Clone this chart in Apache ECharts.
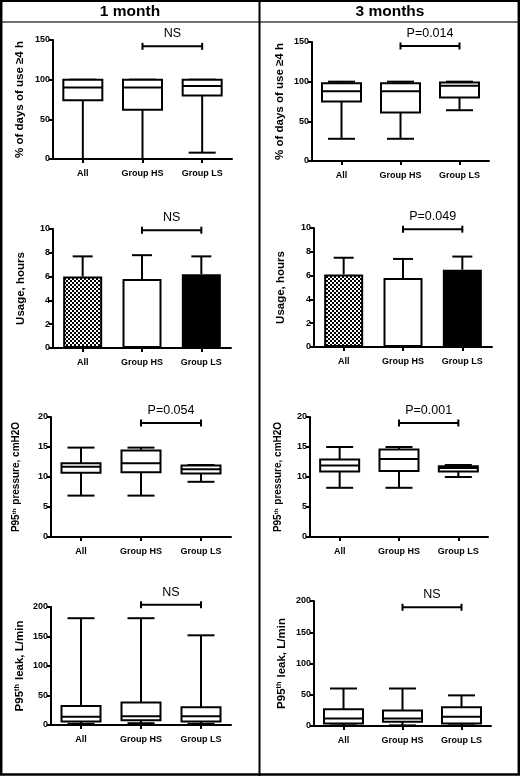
<!DOCTYPE html>
<html>
<head>
<meta charset="utf-8">
<script src="https://cdn.jsdelivr.net/npm/echarts@6/dist/echarts.min.js"></script>
<style>
html,body{margin:0;padding:0;background:#fff;}
#chart{width:520px;height:776px;}
</style>
</head>
<body>
<div id="chart"></div>
<script>
// ---------------- DATA ----------------
const categories = ['All', 'Group HS', 'Group LS'];
const columnTitles = ['1 month', '3 months'];

// Box plots: [min, Q1, median, Q3, max]
const daysUse1m = [[0, 74, 90, 100, 100], [0, 62, 90, 100, 100], [8, 80, 92, 100, 100]];
const daysUse3m = [[28, 75, 88, 98, 100], [28, 61, 88, 98, 100], [64, 80, 95, 99, 100]];
const pressure1m = [[6.9, 10.7, 11.7, 12.3, 14.9], [6.9, 10.8, 12.3, 14.4, 14.9], [9.2, 10.6, 11.3, 11.9, 12.0]];
const pressure3m = [[8.2, 10.9, 11.9, 12.9, 15.0], [8.2, 11.0, 13.0, 14.6, 15.0], [10.0, 10.9, 11.5, 11.8, 12.0]];
const leak1m = [[2, 6, 14, 32, 181], [3, 8, 15, 38, 181], [2, 6, 15, 30, 152]];
const leak3m = [[1, 4, 12, 27, 60], [1, 7, 12, 25, 60], [1, 4, 15, 30, 49]];

// Bars: mean and SD
const usageMean1m = [6.0, 5.8, 6.2];
const usageSD1m = [1.7, 2.0, 1.5];
const usageMean3m = [6.1, 5.8, 6.5];
const usageSD3m = [1.4, 1.6, 1.1];

// Significance bars (Group HS vs Group LS)
const sigLevel = [142, 145, 9.9, 9.9, 19, 19, 204, 190];
const sigText = ['NS', 'P=0.014', 'NS', 'P=0.049', 'P=0.054', 'P=0.001', 'NS', 'NS'];

// Axis settings
const yMax = [150, 150, 10, 10, 20, 20, 200, 200];
const yInterval = [50, 50, 2, 2, 5, 5, 50, 50];
const yNames = ['% of days of use \u22654 h', '% of days of use \u22654 h', 'Usage, hours', 'Usage, hours',
  'P95{sup|th} pressure, cmH2O', 'P95{sup|th} pressure, cmH2O', 'P95{sup|th} leak, L/min', 'P95{sup|th} leak, L/min'];

// ---------------- LAYOUT ----------------
const grids = [
  [53, 40, 179, 119], [312, 42, 177, 119],
  [53, 229, 178, 119], [314, 228, 178, 119],
  [51, 417, 180, 120], [310, 417, 178, 120],
  [51, 607, 180, 118], [314, 601, 177, 125]
];
const nameGaps = [27, 26, 26, 27, 30, 27, 25, 26];
const nameSizes = [11.5, 11.5, 11.5, 11.5, 10, 10, 11.5, 11.5];
const FONT = 'Liberation Sans, Arial, Helvetica, sans-serif';

// pattern for "All" bars
function makePattern() {
  const c = document.createElement('canvas');
  c.width = 4; c.height = 4;
  const ctx = c.getContext('2d');
  ctx.fillStyle = '#000'; ctx.fillRect(0, 0, 4, 4);
  ctx.fillStyle = '#fff';
  ctx.fillRect(0, 0, 2, 2); ctx.fillRect(2, 2, 2, 2);
  return c;
}
const patternFill = { image: makePattern(), repeat: 'repeat' };

const chart = echarts.init(document.getElementById('chart'), null, { renderer: 'canvas' });

function boxRender(params, api) {
  const x = api.value(0);
  const pMin = api.coord([x, api.value(1)]);
  const pQ1 = api.coord([x, api.value(2)]);
  const pMed = api.coord([x, api.value(3)]);
  const pQ3 = api.coord([x, api.value(4)]);
  const pMax = api.coord([x, api.value(5)]);
  const cx = pMin[0];
  const hw = 19.5, cw = 13.5;
  const st = { stroke: '#000', lineWidth: 2, fill: null };
  return {
    type: 'group',
    children: [
      { type: 'line', shape: { x1: cx, y1: pMax[1], x2: cx, y2: pQ3[1] }, style: st },
      { type: 'line', shape: { x1: cx, y1: pQ1[1], x2: cx, y2: pMin[1] }, style: st },
      { type: 'line', shape: { x1: cx - cw, y1: pMax[1], x2: cx + cw, y2: pMax[1] }, style: st },
      { type: 'line', shape: { x1: cx - cw, y1: pMin[1], x2: cx + cw, y2: pMin[1] }, style: st },
      { type: 'rect', shape: { x: cx - hw, y: pQ3[1], width: 2 * hw, height: pQ1[1] - pQ3[1] },
        style: { stroke: '#000', lineWidth: 2, fill: '#fff' } },
      { type: 'line', shape: { x1: cx - hw, y1: pMed[1], x2: cx + hw, y2: pMed[1] }, style: st }
    ]
  };
}

function errRender(params, api) {
  const x = api.value(0);
  const m = api.value(1), sd = api.value(2);
  const p0 = api.coord([x, m]);
  const p1 = api.coord([x, m + sd]);
  const st = { stroke: '#000', lineWidth: 2 };
  return {
    type: 'group',
    children: [
      { type: 'line', shape: { x1: p0[0], y1: p0[1], x2: p1[0], y2: p1[1] }, style: st },
      { type: 'line', shape: { x1: p1[0] - 10, y1: p1[1], x2: p1[0] + 10, y2: p1[1] }, style: st }
    ]
  };
}

function makeSigRender(text) {
  return function (params, api) {
    const y = api.value(1);
    const a = api.coord([1, y]);
    const b = api.coord([2, y]);
    const st = { stroke: '#000', lineWidth: 2 };
    return {
      type: 'group',
      children: [
        { type: 'line', shape: { x1: a[0], y1: a[1], x2: b[0], y2: b[1] }, style: st },
        { type: 'line', shape: { x1: a[0], y1: a[1] - 3.5, x2: a[0], y2: a[1] + 3.5 }, style: st },
        { type: 'line', shape: { x1: b[0], y1: b[1] - 3.5, x2: b[0], y2: b[1] + 3.5 }, style: st },
        { type: 'text', style: { text: text, x: (a[0] + b[0]) / 2, y: a[1] - 6, align: 'center',
          verticalAlign: 'bottom', fontSize: 12.5, fontFamily: FONT, fill: '#000' } }
      ]
    };
  };
}

const gridOpt = [], xAxes = [], yAxes = [], series = [];
for (let i = 0; i < 8; i++) {
  const g = grids[i];
  gridOpt.push({ left: g[0], top: g[1], width: g[2], height: g[3], containLabel: false });
  xAxes.push({
    type: 'category', gridIndex: i, data: categories,
    axisLine: { show: true, lineStyle: { color: '#000', width: 2 } },
    axisTick: { show: true, alignWithLabel: true, length: 4, lineStyle: { color: '#000', width: 2 } },
    axisLabel: { color: '#000', fontSize: 9, fontWeight: 'bold', fontFamily: FONT, margin: 10 },
    splitLine: { show: false }
  });
  yAxes.push({
    type: 'value', gridIndex: i, min: 0, max: yMax[i], interval: yInterval[i],
    name: yNames[i], nameLocation: 'middle', nameGap: nameGaps[i],
    nameTextStyle: {
      color: '#000', fontSize: nameSizes[i], fontWeight: 'bold', fontFamily: FONT,
      rich: { sup: { fontSize: nameSizes[i] * 0.62, fontWeight: 'bold', fontFamily: FONT, color: '#000', verticalAlign: 'top', padding: [0, 1, 0, 0] } }
    },
    axisLine: { show: true, lineStyle: { color: '#000', width: 2 } },
    axisTick: { show: true, length: 4, lineStyle: { color: '#000', width: 2 } },
    axisLabel: { color: '#000', fontSize: 9, fontWeight: 'bold', fontFamily: FONT, margin: 3 },
    splitLine: { show: false }
  });
}

function boxData(arr) { return arr.map((v, k) => [k].concat(v)); }
function addBox(i, arr) {
  series.push({ type: 'custom', xAxisIndex: i, yAxisIndex: i, renderItem: boxRender,
    encode: { x: 0, y: [1, 2, 3, 4, 5] }, data: boxData(arr), z: 3, clip: false });
}
function addBars(i, means, sds) {
  const colors = [patternFill, '#fff', '#000'];
  series.push({ type: 'bar', xAxisIndex: i, yAxisIndex: i, barWidth: 39,
    data: means.map((m, k) => ({ value: m, itemStyle: { color: colors[k], borderColor: '#000', borderWidth: 2 } })), z: 2 });
  series.push({ type: 'custom', xAxisIndex: i, yAxisIndex: i, renderItem: errRender,
    encode: { x: 0, y: [1] }, data: means.map((m, k) => [k, m, sds[k]]), z: 3, clip: false });
}
function addSig(i) {
  series.push({ type: 'custom', xAxisIndex: i, yAxisIndex: i, renderItem: makeSigRender(sigText[i]),
    encode: { x: 0, y: 1 }, data: [[1, sigLevel[i]]], z: 4, clip: false, silent: true });
}

addBox(0, daysUse1m); addBox(1, daysUse3m);
addBars(2, usageMean1m, usageSD1m); addBars(3, usageMean3m, usageSD3m);
addBox(4, pressure1m); addBox(5, pressure3m);
addBox(6, leak1m); addBox(7, leak3m);
for (let i = 0; i < 8; i++) addSig(i);

const graphic = [
  { type: 'line', shape: { x1: 0, y1: 22, x2: 520, y2: 22 }, style: { stroke: '#444', lineWidth: 1.5 }, z: 10 },
  { type: 'line', shape: { x1: 259.5, y1: 0, x2: 259.5, y2: 776 }, style: { stroke: '#000', lineWidth: 2 }, z: 10 },
  { type: 'rect', shape: { x: 1.2, y: 0.8, width: 517.6, height: 773.6 }, style: { stroke: '#000', lineWidth: 2.5, fill: null }, z: 10 },
  { type: 'text', style: { text: columnTitles[0], x: 130, y: 11.5, align: 'center', verticalAlign: 'middle',
    fontSize: 15.5, fontWeight: 'bold', fontFamily: FONT, fill: '#000' }, z: 10 },
  { type: 'text', style: { text: columnTitles[1], x: 390, y: 11.5, align: 'center', verticalAlign: 'middle',
    fontSize: 15.5, fontWeight: 'bold', fontFamily: FONT, fill: '#000' }, z: 10 }
];

chart.setOption({
  animation: false,
  backgroundColor: '#fff',
  grid: gridOpt, xAxis: xAxes, yAxis: yAxes, series: series, graphic: graphic
});
</script>
</body>
</html>
